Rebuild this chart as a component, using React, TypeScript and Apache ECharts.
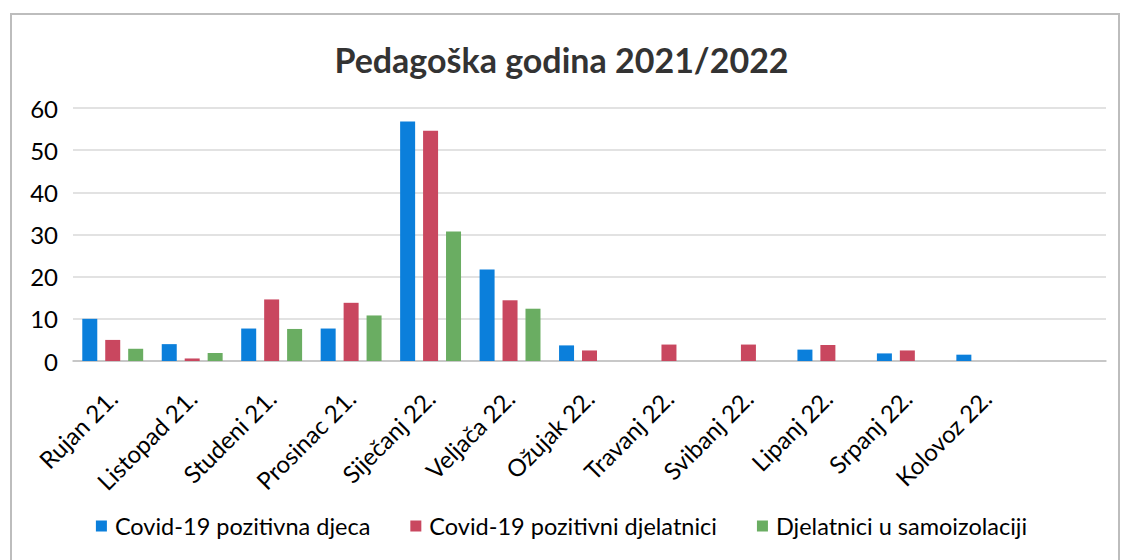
import React, { useEffect, useRef } from "react";
import * as echarts from "echarts";

const categories = [
  "Rujan 21.",
  "Listopad 21.",
  "Studeni 21.",
  "Prosinac 21.",
  "Siječanj 22.",
  "Veljača 22.",
  "Ožujak 22.",
  "Travanj 22.",
  "Svibanj 22.",
  "Lipanj 22.",
  "Srpanj 22.",
  "Kolovoz 22.",
  "",
];

const seriesNames = [
  "Covid-19 pozitivna djeca",
  "Covid-19 pozitivni djelatnici",
  "Djelatnici u samoizolaciji",
];

const djeca = [10, 4, 7.7, 7.7, 56.8, 21.7, 3.7, 0, 0, 2.7, 1.8, 1.5, null];
const djelatnici = [5, 0.6, 14.6, 13.8, 54.6, 14.4, 2.5, 3.9, 3.9, 3.8, 2.5, 0, null];
const samoizolacija = [2.9, 1.9, 7.6, 10.8, 30.7, 12.4, 0, 0, 0, 0, 0, 0, null];

const colors = ["#0b7fdb", "#c9475f", "#6aad62"];
const yTicks = [0, 10, 20, 30, 40, 50, 60];

export default function App() {
  const ref = useRef<HTMLDivElement>(null);
  useEffect(() => {
    if (!ref.current) return;
    const chart = echarts.init(ref.current, null, { renderer: "svg" });
    const font = "Lato, 'Open Sans', sans-serif";
    const data = [djeca, djelatnici, samoizolacija];
    chart.setOption({
      animation: false,
      backgroundColor: "#ffffff",
      textStyle: { fontFamily: font },
      title: {
        text: "Pedagoška godina 2021/2022",
        left: "center",
        top: 37,
        textStyle: { fontFamily: font, fontSize: 34, fontWeight: "bold", color: "#333333" },
      },
      graphic: [
        {
          type: "rect",
          shape: { x: 11, y: 14, width: 1108, height: 560 },
          style: { fill: "none", stroke: "#bdbdbd", lineWidth: 2 },
          silent: true,
        },
      ],
      legend: {
        bottom: 17,
        left: "center",
        itemWidth: 11,
        itemHeight: 11,
        itemGap: 40,
        icon: "rect",
        textStyle: { fontFamily: font, fontSize: 23.5, color: "#000000", padding: [0, 0, 0, 3] },
        data: seriesNames,
      },
      grid: { left: 73, right: 17, top: 108, bottom: 199, containLabel: false },
      xAxis: {
        type: "category",
        data: categories,
        axisLine: { show: true, lineStyle: { color: "#bfbfbf", width: 1.5 } },
        axisTick: { show: false },
        axisLabel: {
          interval: 0,
          rotate: 45,
          margin: 33,
          fontSize: 24,
          color: "#000000",
          fontFamily: font,
        },
      },
      yAxis: {
        type: "value",
        min: 0,
        max: 60,
        interval: 10,
        axisLine: { show: false },
        axisTick: { show: false },
        splitLine: { lineStyle: { color: "#d9d9d9", width: 1.5 } },
        axisLabel: {
          margin: 15,
          fontSize: 24,
          color: "#000000",
          fontFamily: font,
          formatter: (v: number) => (yTicks.includes(v) ? String(v) : ""),
        },
      },
      series: seriesNames.map((name, i) => ({
        name,
        type: "bar",
        data: data[i],
        barWidth: 15,
        barGap: "53%",
        itemStyle: { color: colors[i] },
      })),
    });
    return () => chart.dispose();
  }, []);
  return (
    <div
      ref={ref}
      style={{ position: "fixed", left: 0, top: 0, width: 1123, height: 560 }}
    />
  );
}
